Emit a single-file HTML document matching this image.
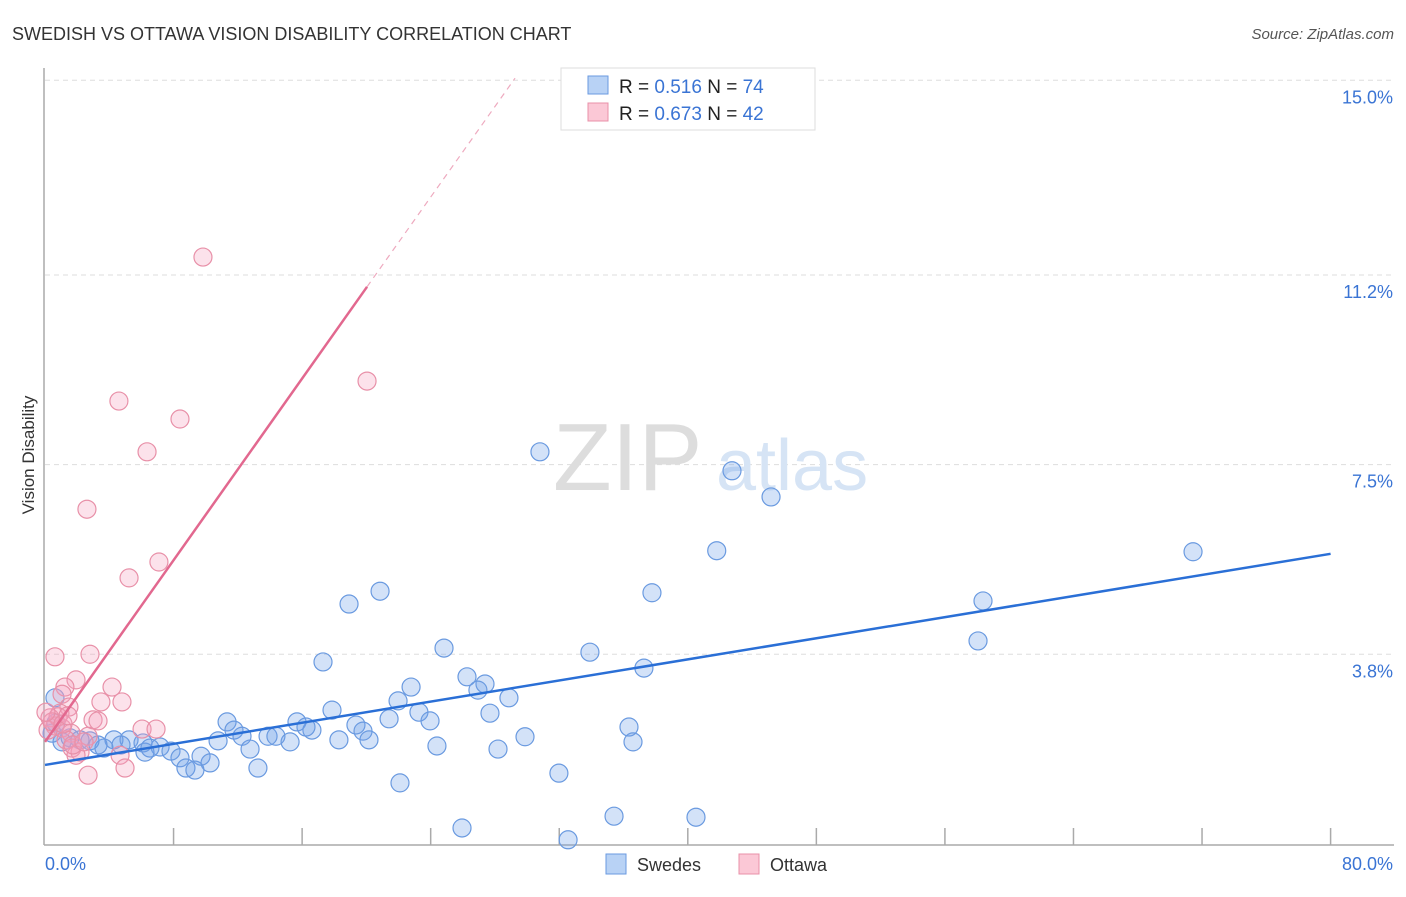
<!DOCTYPE html>
<html><head><meta charset="utf-8"><style>
body{margin:0;background:#fff;font-family:"Liberation Sans",sans-serif;}
svg text{font-family:"Liberation Sans",sans-serif;}
</style></head><body>
<svg width="1406" height="892" xmlns="http://www.w3.org/2000/svg">
<text x="12" y="40" font-size="18" fill="#333">SWEDISH VS OTTAWA VISION DISABILITY CORRELATION CHART</text>
<text x="1394" y="39" font-size="15" fill="#555" text-anchor="end" font-style="italic">Source: ZipAtlas.com</text>
<g id="grid"></g>
<g><text x="553" y="490" font-size="96" fill="#ddd" font-family="Liberation Serif,serif">ZIP</text><text x="716" y="490" font-size="72" fill="#d6e4f5">atlas</text></g>
<line x1="44" y1="68" x2="44" y2="845" stroke="#aaa" stroke-width="1.5"/>
<line x1="44" y1="845" x2="1394" y2="845" stroke="#aaa" stroke-width="1.5"/>
<g id="xticks"></g>
<g id="pts"></g>
<g id="lines"></g>
<text x="34" y="455" font-size="17" fill="#333" text-anchor="middle" transform="rotate(-90 34 455)">Vision Disability</text>
<text x="45" y="870" font-size="18" fill="#3a74d4">0.0%</text>
<text x="1393" y="870" font-size="18" fill="#3a74d4" text-anchor="end">80.0%</text>
<g>
<rect x="561" y="68" width="254" height="62" fill="#fff" stroke="#ddd"/>
<rect x="588" y="76" width="20" height="18" fill="#b8d2f5" stroke="#6a9ae0"/>
<rect x="588" y="103" width="20" height="18" fill="#fbc8d6" stroke="#e890a8"/>
<text x="619" y="93" font-size="19" fill="#222">R = <tspan fill="#3a74d4">0.516</tspan>   N = <tspan fill="#3a74d4">74</tspan></text>
<text x="619" y="120" font-size="19" fill="#222">R = <tspan fill="#3a74d4">0.673</tspan>   N = <tspan fill="#3a74d4">42</tspan></text>
</g>
<g>
<rect x="606" y="854" width="20" height="20" fill="#b8d2f5" stroke="#6a9ae0"/>
<text x="637" y="871" font-size="18" fill="#333">Swedes</text>
<rect x="739" y="854" width="20" height="20" fill="#fbc8d6" stroke="#e890a8"/>
<text x="770" y="871" font-size="18" fill="#333">Ottawa</text>
</g>
</svg>
<script>
const yTicks=[15.0,11.2,7.5,3.8];
const yTickLabels=["15.0%","11.2%","7.5%","3.8%"];
const xTicks=[8,16,24,32,40,48,56,64,72,80];
const swedesX=[30.8,42.75,45.18,41.8,71.44,37.77,58.37,18.92,20.85,58.06,24.83,33.91,37.27,17.3,26.26,27.38,26.94,22.78,28.87,21.97,17.86,27.69,23.27,21.41,23.96,15.68,11.33,19.35,19.79,11.76,12.26,36.34,29.87,13.88,14.37,16.61,16.24,15.25,12.76,10.77,18.29,20.16,24.39,28.19,36.59,5.23,6.10,7.16,7.84,9.71,8.40,10.27,8.77,9.33,13.25,6.22,4.29,4.73,3.67,2.80,2.18,1.56,1.06,0.44,0.68,0.62,22.09,31.98,35.41,40.51,25.95,32.55,3.30,6.53];
const swedesY=[7.75,7.38,6.87,5.82,5.80,5.0,4.84,4.78,5.03,4.06,3.92,3.84,3.53,3.65,3.36,3.22,3.10,3.16,2.95,2.89,2.71,2.65,2.67,2.54,2.50,2.48,2.48,2.42,2.30,2.32,2.20,2.38,2.19,2.20,2.20,2.32,2.38,2.09,1.95,2.11,2.13,2.13,2.01,1.95,2.09,2.13,2.07,1.99,1.91,1.81,1.78,1.68,1.58,1.54,1.58,1.89,2.13,2.03,1.97,2.11,2.13,2.17,2.09,2.26,2.46,2.95,1.29,1.48,0.64,0.62,0.41,0.18,2.03,1.97];
const ottawaX=[9.83,20.04,4.60,8.40,6.35,2.61,7.09,5.23,0.62,2.80,1.93,1.24,1.06,4.17,3.48,4.79,1.49,0.93,0.31,2.99,3.30,0.62,1.06,6.04,6.91,0.19,1.62,2.68,1.31,1.68,2.18,1.93,4.67,4.98,2.68,0.81,0.44,1.12,1.43,0.06,1.74,2.43];
const ottawaY=[11.55,9.13,8.74,8.39,7.75,6.63,5.60,5.29,3.75,3.80,3.30,3.16,3.02,3.16,2.87,2.87,2.77,2.65,2.56,2.52,2.50,2.40,2.36,2.34,2.34,2.32,2.26,2.20,2.13,1.97,1.89,1.83,1.83,1.58,1.44,2.58,2.48,2.44,2.60,2.67,2.03,2.09];
const swedesTrend=[[0,1.64],[80,5.76]];
const ottawaTrend=[[0,2.09],[20.04,10.97]];
const ottawaTrendDash=[[20.04,10.97],[29.25,15.04]];
const NS="http://www.w3.org/2000/svg";
const xs=v=>45+v*16.07, ys=v=>849-v*51.25;
function mk(tag,attrs,parent){const e=document.createElementNS(NS,tag);for(const k in attrs)e.setAttribute(k,attrs[k]);document.getElementById(parent).appendChild(e);return e;}
yTicks.forEach((t,i)=>{
  const l=mk('line',{x1:45,x2:1394,y1:ys(t),y2:ys(t),stroke:'#ddd','stroke-dasharray':'5,4'},'grid');
  
  
  const tx=mk('text',{x:1393,y:ys(t)+23,'font-size':18,fill:'#3a74d4','text-anchor':'end'},'grid');
  tx.textContent=yTickLabels[i];
  
  
});
xTicks.forEach(t=>{
  const l=mk('line',{x1:xs(t),x2:xs(t),y1:828,y2:845,stroke:'#aaa','stroke-width':1.5},'xticks');
  
  
});
swedesX.forEach((x,i)=>{
  const c=mk('circle',{cx:xs(x),cy:ys(swedesY[i]),r:9,fill:'rgba(110,160,232,0.3)',stroke:'#6a9ae0','stroke-width':1.2},'pts');
  
  
});
ottawaX.forEach((x,i)=>{
  const c=mk('circle',{cx:xs(x),cy:ys(ottawaY[i]),r:9,fill:'rgba(244,160,188,0.3)',stroke:'#e890a8','stroke-width':1.2},'pts');
  
  
});
let l1=mk('line',{x1:xs(swedesTrend[0][0]),y1:ys(swedesTrend[0][1]),x2:xs(swedesTrend[1][0]),y2:ys(swedesTrend[1][1]),stroke:'#2a6fd6','stroke-width':2.5},'lines');


let l2=mk('line',{x1:xs(ottawaTrend[0][0]),y1:ys(ottawaTrend[0][1]),x2:xs(ottawaTrend[1][0]),y2:ys(ottawaTrend[1][1]),stroke:'#e2688f','stroke-width':2.5},'lines');


let l3=mk('line',{x1:xs(ottawaTrendDash[0][0]),y1:ys(ottawaTrendDash[0][1]),x2:xs(ottawaTrendDash[1][0]),y2:ys(ottawaTrendDash[1][1]),stroke:'#eeaabf','stroke-width':1.2,'stroke-dasharray':'6,5'},'lines');


</script>
</body></html>
